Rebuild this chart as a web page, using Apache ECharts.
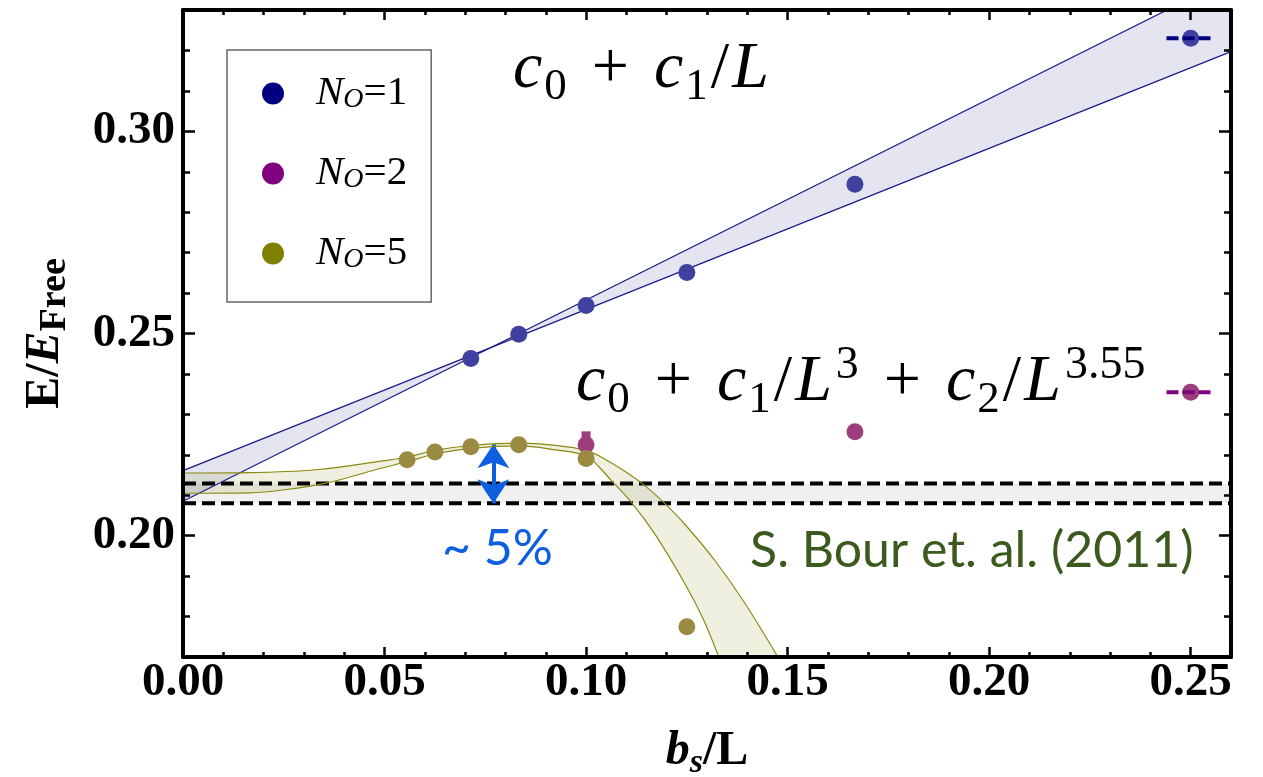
<!DOCTYPE html>
<html>
<head>
<meta charset="utf-8">
<script src="https://cdn.jsdelivr.net/npm/echarts@6/dist/echarts.min.js"></script>
<style>
  html, body { margin: 0; padding: 0; background: #fff; }
  #chart { width: 1263px; height: 777px; }
</style>
</head>
<body>
<div id="chart"></div>
<script>
  // data points, x = b_s/L
  var blueX = [0.0714, 0.0833, 0.1000, 0.1250, 0.1667, 0.2500];
  var blueY = [0.2438, 0.2498, 0.2569, 0.2651, 0.2869, 0.3230];
  var purpleX = [0.1000, 0.1667, 0.2500];
  var purpleY = [0.2225, 0.2257, 0.2355];
  var purpleErrHi = [0.2258, 0.2257, 0.2355];
  var oliveX = [0.0556, 0.0625, 0.0714, 0.0833, 0.1000, 0.1250];
  var oliveY = [0.2188, 0.2207, 0.2220, 0.2225, 0.2191, 0.1775];

  // c0 + c1/L band (two lines)
  var fitX = [0, 0.26];
  var fitA = [0.2161, 0.3197];
  var fitB = [0.2085, 0.3379];

  // c0 + c1/L^3 + c2/L^3.55 band
  var upX = [0, 0.0166, 0.0330, 0.0496, 0.0556, 0.0625, 0.0714, 0.0833, 0.0920, 0.1000, 0.1049, 0.1098, 0.1148, 0.1197, 0.1246, 0.1320, 0.1394, 0.1477];
  var upY = [0.2155, 0.2156, 0.2163, 0.2185, 0.2194, 0.2211, 0.2223, 0.2229, 0.2224, 0.2211, 0.2188, 0.2158, 0.2122, 0.2078, 0.2027, 0.1938, 0.1833, 0.1698];
  var loX = [0, 0.0167, 0.0248, 0.0355, 0.0496, 0.0556, 0.0625, 0.0714, 0.0833, 0.0920, 0.1000, 0.1031, 0.1063, 0.1113, 0.1172, 0.1246, 0.1290, 0.1330];
  var loY = [0.2105, 0.2106, 0.2113, 0.2130, 0.2168, 0.2183, 0.2202, 0.2216, 0.2222, 0.2213, 0.2198, 0.2171, 0.2136, 0.2082, 0.2002, 0.1880, 0.1795, 0.1698];

  // S. Bour et al. (2011)
  var refX = [0, 0.26];
  var refLo = 0.2080;
  var refHi = 0.2129;

  // dashed marks at L = 4
  var capX = [0.2440, 0.2550];

  // ~5% arrow
  var arrowX = 0.0770;
  var arrowY = [0.2226, 0.2080];

  // ticks
  var xMajor = [0, 0.05, 0.10, 0.15, 0.20, 0.25];
  var xMinor = [0.01, 0.02, 0.03, 0.04, 0.06, 0.07, 0.08, 0.09, 0.11, 0.12, 0.13, 0.14, 0.16, 0.17, 0.18, 0.19, 0.21, 0.22, 0.23, 0.24];
  var yMajor = [0.20, 0.25, 0.30];
  var yMinor = [0.17, 0.18, 0.19, 0.21, 0.22, 0.23, 0.24, 0.26, 0.27, 0.28, 0.29, 0.31, 0.32, 0.33];

  var serif = 'Liberation Serif';
  var navy = '#000080', purple = '#800080', olive = '#808000';

  function pairs(xs, ys) {
    return xs.map(function (x, i) { return [x, ys[i]]; });
  }

  function polygon(pts, color, z) {
    return {
      type: 'custom', clip: true, silent: true, z: z,
      data: [[0, 0]],
      renderItem: function (params, api) {
        return {
          type: 'polygon',
          shape: { points: pts.map(function (p) { return api.coord(p); }) },
          style: { fill: color }
        };
      }
    };
  }

  function dashed(points, color, width, dash, z) {
    return {
      type: 'line', data: points, symbol: 'none', silent: true, z: z,
      lineStyle: { color: color, width: width, type: dash }
    };
  }

  function curve(xs, ys, color) {
    return {
      type: 'line', data: pairs(xs, ys), smooth: 0.35,
      symbol: 'none', silent: true, z: 5,
      lineStyle: { color: color, width: 1.2 }
    };
  }

  function xAx(pos, ticks, len, main) {
    return {
      type: 'value', min: 0, max: 0.26, position: pos, z: 20,
      axisLine: { show: main, onZero: false, lineStyle: { color: '#000', width: 4 } },
      axisTick: { show: true, inside: true, length: len, customValues: ticks, lineStyle: { color: '#000', width: 2.5 } },
      axisLabel: { show: false },
      splitLine: { show: false }
    };
  }
  function yAx(pos, ticks, len, main) {
    return {
      type: 'value', min: 0.17, max: 0.33, position: pos, z: 20,
      axisLine: { show: main, onZero: false, lineStyle: { color: '#000', width: 4 } },
      axisTick: { show: true, inside: true, length: len, customValues: ticks, lineStyle: { color: '#000', width: 2.5 } },
      axisLabel: { show: false },
      splitLine: { show: false }
    };
  }

  var xBottom = xAx('bottom', xMajor, 10, true);
  xBottom.axisLabel = {
    show: true, customValues: xMajor, margin: 2,
    fontFamily: serif, fontWeight: 'bold', fontSize: 47, color: '#000',
    formatter: function (v) { return v.toFixed(2); }
  };
  xBottom.name = '{bi|b}{si|s}{b|/L}';
  xBottom.nameLocation = 'middle';
  xBottom.nameGap = 67;
  xBottom.nameTextStyle = {
    rich: {
      bi: { fontFamily: serif, fontWeight: 'bold', fontStyle: 'italic', fontSize: 48, lineHeight: 56, color: '#000' },
      si: { fontFamily: serif, fontWeight: 'bold', fontStyle: 'italic', fontSize: 34, lineHeight: 32, verticalAlign: 'bottom', color: '#000' },
      b: { fontFamily: serif, fontWeight: 'bold', fontSize: 48, lineHeight: 56, color: '#000' }
    }
  };

  var yLeft = yAx('left', yMajor, 12, true);
  yLeft.axisLabel = {
    show: true, customValues: yMajor, margin: 8,
    fontFamily: serif, fontWeight: 'bold', fontSize: 47, color: '#000',
    formatter: function (v) { return v.toFixed(2); }
  };
  yLeft.name = '{b|E/}{bi|E}{sb|Free}';
  yLeft.nameLocation = 'middle';
  yLeft.nameRotate = 90;
  yLeft.nameGap = 109;
  yLeft.nameTextStyle = {
    rich: {
      b: { fontFamily: serif, fontWeight: 'bold', fontSize: 48, lineHeight: 56, color: '#000' },
      bi: { fontFamily: serif, fontWeight: 'bold', fontStyle: 'italic', fontSize: 48, lineHeight: 56, color: '#000' },
      sb: { fontFamily: serif, fontWeight: 'bold', fontSize: 38, lineHeight: 29, verticalAlign: 'bottom', color: '#000' }
    }
  };

  var fRich = {
    i: { fontFamily: serif, fontStyle: 'italic', fontSize: 66, lineHeight: 80, fill: '#000' },
    L: { fontFamily: serif, fontStyle: 'italic', fontSize: 66, lineHeight: 80, padding: [0, 2, 0, 0], fill: '#000' },
    r: { fontFamily: serif, fontSize: 66, lineHeight: 80, padding: [0, 3, 0, 3], fill: '#000' },
    p: { fontFamily: serif, fontSize: 66, lineHeight: 80, padding: [0, 25, 0, 25], fill: '#000' },
    s: { fontFamily: serif, fontSize: 45, lineHeight: 42, verticalAlign: 'bottom', padding: [0, 0, 0, 2], fill: '#000' },
    u: { fontFamily: serif, fontSize: 46, lineHeight: 30, verticalAlign: 'top', padding: [0, 0, 0, 2], fill: '#000' }
  };

  var legendRich = {
    g: { width: 27 },
    n: { fontFamily: serif, fontStyle: 'italic', fontSize: 41, lineHeight: 40, color: '#000' },
    o: { fontFamily: serif, fontStyle: 'italic', fontSize: 28, lineHeight: 28, verticalAlign: 'bottom', color: '#000' },
    e: { fontFamily: serif, fontSize: 41, lineHeight: 40, color: '#000' }
  };

  var chart = echarts.init(document.getElementById('chart'));

  var option = {
    animation: false,
    backgroundColor: '#fff',
    grid: { left: 183, right: 32, top: 10, bottom: 120, containLabel: false, outerBoundsMode: 'none' },
    xAxis: [xBottom, xAx('bottom', xMinor, 5, false), xAx('top', xMajor, 10, true), xAx('top', xMinor, 5, false)],
    yAxis: [yLeft, yAx('left', yMinor, 7, false), yAx('right', yMajor, 12, true), yAx('right', yMinor, 7, false)],
    legend: {
      orient: 'vertical', left: 227, top: 50,
      padding: [23, 24, 28, 35], itemGap: 39,
      itemWidth: 22, itemHeight: 22, icon: 'circle',
      borderColor: '#666', borderWidth: 1.5, backgroundColor: '#fff',
      data: [
        { name: 'N_O=1', itemStyle: { color: navy, opacity: 1 } },
        { name: 'N_O=2', itemStyle: { color: purple, opacity: 1 } },
        { name: 'N_O=5', itemStyle: { color: olive, opacity: 1 } }
      ],
      formatter: function (name) {
        return '{g|}{n|N}{o|O}{e|=' + name.split('=')[1] + '}';
      },
      textStyle: { rich: legendRich }
    },
    graphic: [
      {
        type: 'text', left: 513, top: 37, z: 30, silent: true,
        style: { text: '{i|c}{s|0}{p|+}{i|c}{s|1}{r|/}{i|L}', rich: fRich }
      },
      {
        type: 'text', left: 576, top: 343, z: 30, silent: true,
        style: { text: '{i|c}{s|0}{p|+}{i|c}{s|1}{r|/}{L|L}{u|3}{p|+}{i|c}{s|2}{r|/}{L|L}{u|3.55}', rich: fRich }
      },
      {
        type: 'text', left: 442, top: 524, z: 30, silent: true,
        style: { text: '~ 5%', font: '50px Lato', fill: '#0d5fe0' }
      },
      {
        type: 'text', left: 750, top: 526, z: 30, silent: true,
        style: { text: 'S. Bour et. al. (2011)', font: '50px Lato', fill: '#3d5a1e' }
      }
    ],
    series: [
      polygon([[refX[0], refLo], [refX[1], refLo], [refX[1], refHi], [refX[0], refHi]], '#f0f0f0', 1),
      polygon([[fitX[0], fitA[0]], [fitX[1], fitA[1]], [fitX[1], fitB[1]], [fitX[0], fitB[0]]], 'rgba(0,0,128,0.1)', 2),
      polygon(pairs(upX, upY).concat(pairs(loX, loY).reverse()), 'rgba(128,128,0,0.12)', 3),
      dashed([[refX[0], refLo], [refX[1], refLo]], '#000', 4, [13, 6], 4),
      dashed([[refX[0], refHi], [refX[1], refHi]], '#000', 4, [13, 6], 4),
      { type: 'line', data: pairs(fitX, fitA), symbol: 'none', silent: true, z: 5, lineStyle: { color: '#1a1a8c', width: 1.2 } },
      { type: 'line', data: pairs(fitX, fitB), symbol: 'none', silent: true, z: 5, lineStyle: { color: '#1a1a8c', width: 1.2 } },
      curve(upX, upY, '#8a8a10'),
      curve(loX, loY, '#8a8a10'),
      {
        type: 'custom', silent: true, z: 6,
        data: purpleX.map(function (x, i) { return [x, purpleY[i], purpleErrHi[i]]; }),
        renderItem: function (params, api) {
          var a = api.coord([api.value(0), api.value(1)]);
          var b = api.coord([api.value(0), api.value(2)]);
          return { type: 'line', shape: { x1: a[0], y1: a[1], x2: b[0], y2: b[1] }, style: { stroke: '#9c3e7c', lineWidth: 9 } };
        }
      },
      { name: 'N_O=1', type: 'scatter', data: pairs(blueX, blueY), symbolSize: 17, z: 6, itemStyle: { color: '#4040a0', opacity: 1 } },
      { name: 'N_O=2', type: 'scatter', data: pairs(purpleX, purpleY), symbolSize: 17, z: 6, itemStyle: { color: '#9c3e7c', opacity: 1 } },
      { name: 'N_O=5', type: 'scatter', data: pairs(oliveX, oliveY), symbolSize: 17, z: 7, itemStyle: { color: '#9a8a42', opacity: 1 } },
      dashed([[capX[0], blueY[5]], [capX[1], blueY[5]]], navy, 4, [12, 4], 8),
      dashed([[capX[0], purpleY[2]], [capX[1], purpleY[2]]], purple, 4, [12, 4], 8),
      {
        type: 'line', data: [[arrowX, arrowY[0]], [arrowX, arrowY[1]]], symbol: 'none', silent: true, z: 9,
        lineStyle: { opacity: 0 },
        markLine: {
          silent: true, symbol: ['arrow', 'arrow'], symbolSize: [24, 24],
          label: { show: false },
          lineStyle: { color: '#0d5fe0', width: 4, type: 'solid' },
          data: [[{ coord: [arrowX, arrowY[0]] }, { coord: [arrowX, arrowY[1]] }]]
        }
      }
    ]
  };

  chart.setOption(option);

  window.addEventListener('resize', function () {
    chart.resize();
  });
</script>
</body>
</html>
